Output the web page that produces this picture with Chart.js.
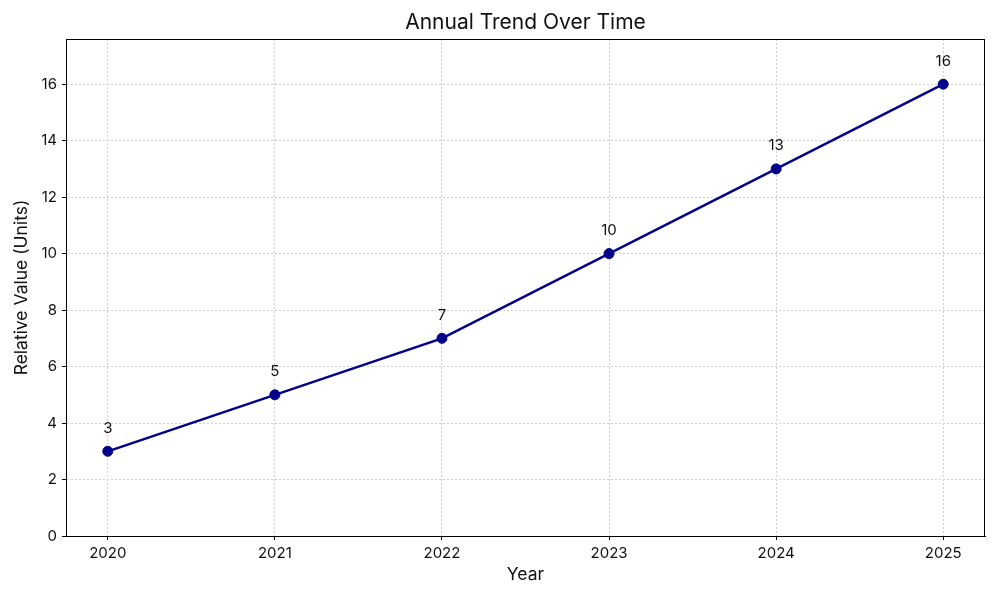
<!DOCTYPE html>
<html><head><meta charset="utf-8">
<script src="https://cdn.jsdelivr.net/npm/chart.js@4"></script>
<style>html,body{margin:0;padding:0;background:#fff}#wrap{width:1000px;height:600px}</style>
</head><body><div id="wrap"><canvas id="c" width="1000" height="600"></canvas></div>
<script>
const years = ['2020','2021','2022','2023','2024','2025'];
const values = [3, 5, 7, 10, 13, 16];
const yTicks = [0, 2, 4, 6, 8, 10, 12, 14, 16];
const chartTitle = 'Annual Trend Over Time';

const FONT = 'Inter, "Open Sans", sans-serif';
const lineColor = '#00008B';

const frame = {
  id: 'frame',
  afterDraw(chart) {
    const {ctx, chartArea: a} = chart;
    ctx.save();
    ctx.strokeStyle = '#000'; ctx.lineWidth = 1;
    ctx.strokeRect(a.left + 0.5, a.top + 0.5, a.right - a.left - 1, a.bottom - a.top);
    ctx.font = '21px ' + FONT;
    ctx.fillStyle = '#111';
    ctx.textAlign = 'center'; ctx.textBaseline = 'middle';
    ctx.fillText(chartTitle, (a.left + a.right) / 2, 23);
    ctx.restore();
  }
};
const labels = {
  id: 'labels',
  afterDatasetsDraw(chart) {
    const {ctx} = chart;
    const meta = chart.getDatasetMeta(0);
    ctx.save();
    ctx.font = '15px ' + FONT;
    ctx.fillStyle = '#111';
    ctx.textAlign = 'center'; ctx.textBaseline = 'middle';
    meta.data.forEach((p, i) => ctx.fillText(String(values[i]), p.x, p.y - 23));
    ctx.restore();
  }
};

new Chart(document.getElementById('c'), {
  type: 'line',
  data: {
    datasets: [{
      data: values.map((v, i) => ({x: i, y: v})),
      borderColor: lineColor, backgroundColor: lineColor,
      borderWidth: 2.4, pointRadius: 5, pointBorderWidth: 1,
      pointBackgroundColor: lineColor, pointBorderColor: lineColor,
      tension: 0, fill: false
    }]
  },
  options: {
    responsive: false, animation: false, devicePixelRatio: 1,
    layout: {padding: {left: 0, right: 15, top: 39, bottom: 0}},
    plugins: {
      legend: {display: false}, tooltip: {enabled: false}, title: {display: false}
    },
    scales: {
      x: {
        type: 'linear', min: -0.25, max: 5.25,
        afterFit(s) { s.height = 64; },
        ticks: {stepSize: 1, includeBounds: false, color: '#111', padding: 4,
          font: {family: FONT, size: 15},
          callback: v => Number.isInteger(v) ? years[v] : ''},
        grid: {color: '#d0d0d0', lineWidth: 1, tickLength: 4, tickColor: '#000', tickBorderDash: []},
        border: {color: '#000', width: 1, dash: [2, 2]},
        title: {display: true, text: 'Year', color: '#111', font: {family: FONT, size: 17.5}, padding: {top: 2, bottom: 15}}
      },
      y: {
        type: 'linear', min: 0, max: 17.6,
        afterFit(s) { s.width = 66; },
        afterBuildTicks(s) { s.ticks = yTicks.map(v => ({value: v})); },
        ticks: {color: '#111', padding: 5, font: {family: FONT, size: 15}},
        grid: {color: '#d0d0d0', lineWidth: 1, tickLength: 4, tickColor: '#000', tickBorderDash: []},
        border: {color: '#000', width: 1, dash: [2, 2]},
        title: {display: true, text: 'Relative Value (Units)', color: '#111', font: {family: FONT, size: 17.5}, padding: {top: 11, bottom: 4}}
      }
    }
  },
  plugins: [frame, labels]
});
</script></body></html>
